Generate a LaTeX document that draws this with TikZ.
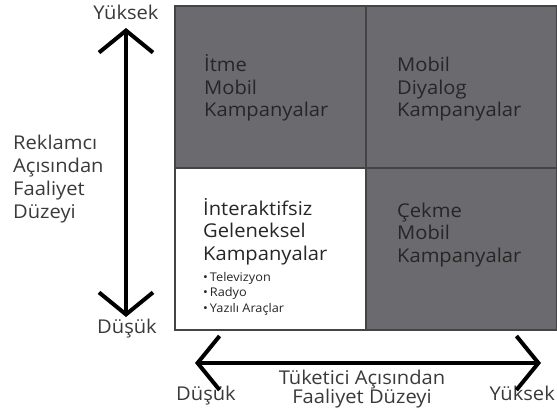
\documentclass[tikz,border=0pt]{standalone}
\usepackage{fontspec}
\setmainfont{Open Sans}[FakeStretch=1.06]
\usetikzlibrary{positioning, arrows.meta, calc}
\definecolor{cellgray}{HTML}{6B6B6F}
\definecolor{rulegray}{HTML}{444446}
\definecolor{ink}{HTML}{262626}
\definecolor{labelink}{HTML}{3A3A3A}

\begin{document}
\begin{tikzpicture}[x=1pt, y=-1pt,
  cell/.style={draw=rulegray, line width=1.2pt, minimum width=191pt, minimum height=162pt, inner sep=0pt, outer sep=0pt},
  darkcell/.style={cell, fill=cellgray},
  celltext/.style={anchor=base west, align=left, inner sep=0pt, text=ink, font=\fontsize{19}{22.5}\selectfont},
  itemtext/.style={anchor=base west, align=left, inner sep=0pt, text=ink, font=\fontsize{12}{15.5}\selectfont},
  axislabel/.style={anchor=base, inner sep=0pt, text=labelink, font=\fontsize{19}{23}\selectfont},
  axisarrow/.style={line width=4pt, {Straight Barb[length=22pt, width=54pt, sharp]}-{Straight Barb[length=22pt, width=54pt, sharp]}}]
\useasboundingbox (0,0) rectangle (557,412);

% quadrants
\node[darkcell, anchor=north west] (itme) at (175,6) {};
\node[darkcell, right=0pt of itme] (diyalog) {};
\node[cell, fill=white, below=0pt of itme] (geleneksel) {};
\node[darkcell, right=0pt of geleneksel] (cekme) {};

% quadrant texts (base = last line)
\node[celltext] (itmetext) at ($(itme.north west)+(29,111)$) {İtme\\Mobil\\Kampanyalar};
\node[celltext] (diyalogtext) at ($(diyalog.north west)+(31,111)$) {Mobil\\Diyalog\\Kampanyalar};
\node[celltext] (gelenekseltext) at ($(geleneksel.north west)+(28,92)$) {İnteraktifsiz\\Geleneksel\\Kampanyalar};
\node[itemtext] (medya) at ($(geleneksel.north west)+(28,144)$) {\textbullet\,Televizyon\\\textbullet\,Radyo\\\textbullet\,Yazılı Araçlar};
\node[celltext] (cekmetext) at ($(cekme.north west)+(31,94)$) {Çekme\\Mobil\\Kampanyalar};

% vertical axis
\node[axislabel] (vyuksek) at (126,20) {Yüksek};
\node[axislabel] (vdusuk) at (127,333) {Düşük};
\node[axislabel, anchor=base west, align=left] (reklamci) at (13,218) {Reklamcı\\Açısından\\Faaliyet\\Düzeyi};
\coordinate (vtop) at (126,28);
\coordinate (vbot) at (126,317);
\draw[axisarrow] (vbot) -- (vtop);

% horizontal axis
\node[axislabel] (hdusuk) at (206,400) {Düşük};
\node[axislabel, anchor=base east] (hyuksek) at (555,400) {Yüksek};
\node[axislabel, align=center, font=\fontsize{19}{19}\selectfont] (tuketici) at (362,403) {Tüketici Açısından\\Faaliyet Düzeyi};
\coordinate (hleft) at (195,363);
\coordinate (hright) at (541,363);
\draw[axisarrow] (hleft) -- (hright);
\end{tikzpicture}
\end{document}
